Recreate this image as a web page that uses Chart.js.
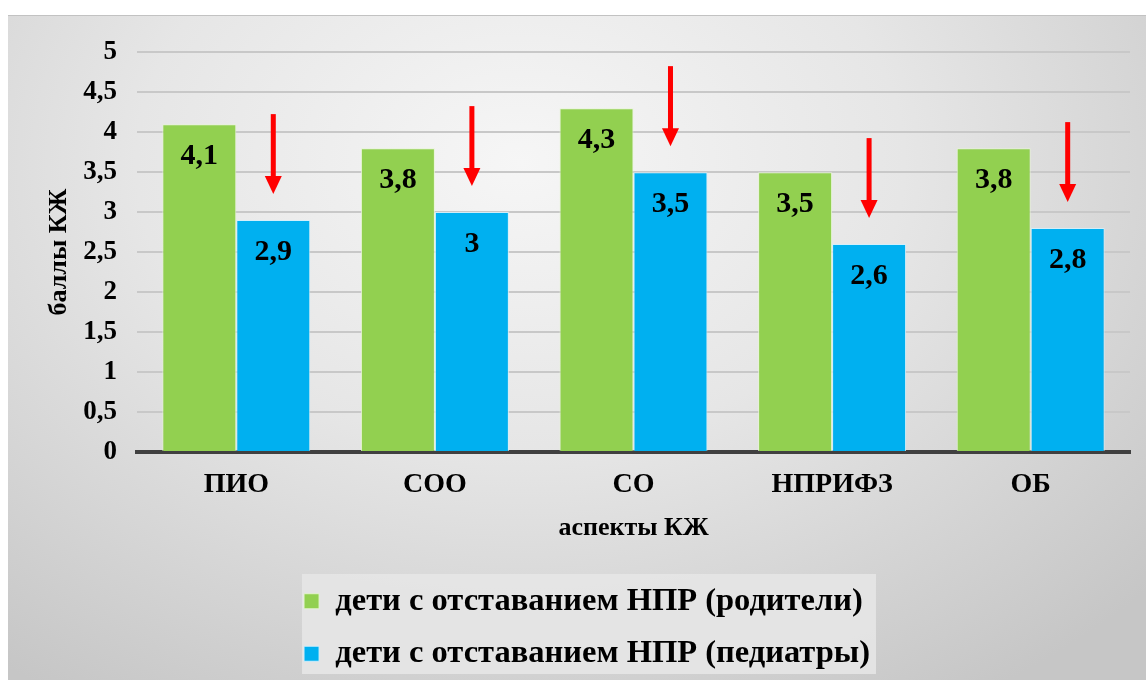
<!DOCTYPE html>
<html lang="ru">
  <head>
    <meta charset="utf-8">
    <title>аспекты КЖ</title>
    <style>
      body { margin: 0; background: #fff; }
      #wrap {
        position: absolute; left: 8px; top: 15px; width: 1138px; height: 665px;
        border-top: 1px solid #c2c2c2;
        background: radial-gradient(ellipse 75% 95% at 45% 22%, #f6f6f6 0%, #e6e6e6 45%, #c6c6c6 100%);
      }
    </style>
  </head>
  <body>
    <div id="wrap"><canvas id="bar-chart"></canvas></div>

    <script src="https://cdn.jsdelivr.net/npm/chart.js@4/dist/chart.umd.min.js"></script>
    <script>
    const categories = ['ПИО', 'СОО', 'СО', 'НПРИФЗ', 'ОБ'];
    const parents = [4.1, 3.8, 4.3, 3.5, 3.8];
    const pediatrists = [2.9, 3.0, 3.5, 2.6, 2.8];
    const seriesNames = ['дети с отставанием НПР (родители)', 'дети с отставанием НПР (педиатры)'];

    const serif = "'Liberation Serif', 'Times New Roman', serif";
    const comma = v => String(v).replace('.', ',');

    // подписи значений внутри столбцов
    const valueLabels = {
      id: 'valueLabels',
      afterDatasetsDraw(chart) {
        const ctx = chart.ctx;
        ctx.save();
        ctx.font = 'bold 30px ' + serif;
        ctx.fillStyle = '#000';
        ctx.textAlign = 'center';
        ctx.textBaseline = 'middle';
        chart.data.datasets.forEach((ds, i) => {
          chart.getDatasetMeta(i).data.forEach((bar, j) => {
            ctx.fillText(comma(ds.data[j]), bar.x, bar.y + 32);
          });
        });
        ctx.restore();
      }
    };

    // красные стрелки над столбцами педиатров
    const arrows = {
      id: 'arrows',
      afterDatasetsDraw(chart) {
        const ctx = chart.ctx;
        ctx.save();
        ctx.fillStyle = '#ff0000';
        chart.getDatasetMeta(1).data.forEach(bar => {
          const x = bar.x, tip = bar.y - 26, top = tip - 80;
          ctx.fillRect(x - 2.5, top, 5, 64);
          ctx.beginPath();
          ctx.moveTo(x - 8.5, tip - 18);
          ctx.lineTo(x + 8.5, tip - 18);
          ctx.lineTo(x, tip);
          ctx.closePath();
          ctx.fill();
        });
        ctx.restore();
      }
    };

    // легенда: обе строки выровнены по левому краю + фон
    const legendBg = {
      id: 'legendBg',
      afterLayout(chart) {
        const lg = chart.legend;
        if (lg && lg.lineWidths) {
          const w = Math.max(...lg.lineWidths);
          lg.lineWidths = lg.lineWidths.map(() => w);
        }
      },
      beforeDraw(chart) {
        const lg = chart.legend;
        if (!lg || !lg.legendHitBoxes.length) return;
        const boxes = lg.legendHitBoxes;
        const left = Math.min(...boxes.map(b => b.left)) - 2;
        const right = Math.max(...boxes.map(b => b.left + b.width)) + 6;
        const top = Math.min(...boxes.map(b => b.top)) - 11;
        const bottom = Math.max(...boxes.map(b => b.top + b.height)) + 4;
        const ctx = chart.ctx;
        ctx.save();
        ctx.fillStyle = 'rgba(230,230,230,0.9)';
        ctx.fillRect(left, top, right - left, bottom - top);
        ctx.restore();
      }
    };

    new Chart(document.getElementById('bar-chart'), {
      type: 'bar',
      data: {
        labels: categories,
        datasets: [
          { label: seriesNames[0], data: parents, backgroundColor: '#92D050', borderColor: 'rgba(230,245,210,0.9)', borderWidth: 1 },
          { label: seriesNames[1], data: pediatrists, backgroundColor: '#00B0F0', borderColor: 'rgba(210,240,252,0.9)', borderWidth: 1 }
        ]
      },
      options: {
        responsive: true,
        maintainAspectRatio: false,
        animation: false,
        layout: { padding: { left: 36, right: 16, top: 30, bottom: 1 } },
        datasets: { bar: { categoryPercentage: 0.745, barPercentage: 1 } },
        plugins: {
          tooltip: { enabled: false },
          legend: {
            position: 'bottom',
            labels: {
              color: '#000',
              font: { family: serif, size: 32.5, weight: 'bold' },
              boxWidth: 15, boxHeight: 15, padding: 20
            }
          }
        },
        scales: {
          x: {
            grid: { display: false, drawTicks: false },
            border: { color: '#404040', width: 4 },
            ticks: { color: '#000', padding: 16, font: { family: serif, size: 28, weight: 'bold' } },
            title: { display: true, text: 'аспекты КЖ', color: '#000', padding: { top: 4, bottom: 21 },
                     font: { family: serif, size: 26, weight: 'bold' } },
            afterFit(s) { s.height = 113; }
          },
          y: {
            min: 0, max: 5,
            grid: { color: '#c8c8c8', lineWidth: 2, drawTicks: false },
            border: { display: false },
            ticks: { stepSize: 0.5, color: '#000', padding: 20, callback: v => comma(v),
                     font: { family: serif, size: 27, weight: 'bold' } },
            title: { display: true, text: 'баллы КЖ', color: '#000', padding: 0,
                     font: { family: serif, size: 26, weight: 'bold' } },
            afterFit(s) { s.width = 93; }
          }
        }
      },
      plugins: [legendBg, valueLabels, arrows]
    });
    </script>
  </body>
</html>
